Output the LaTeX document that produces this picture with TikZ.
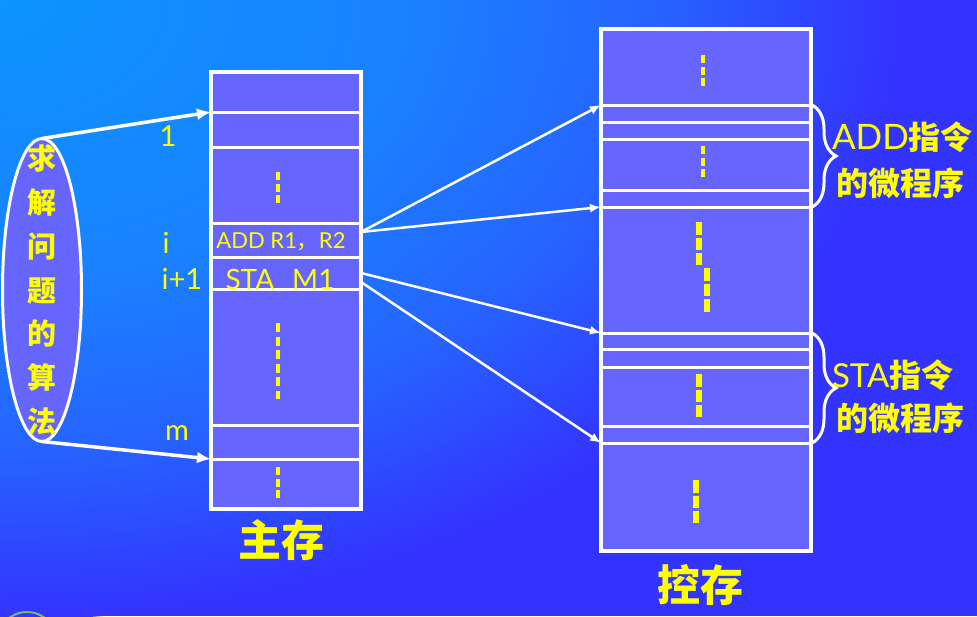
\documentclass[tikz,border=0pt]{standalone}
\usepackage{fontspec}
\setmainfont{Noto Sans CJK SC}
\newfontfamily\lat{Lato}
\usetikzlibrary{shapes.geometric,arrows.meta,decorations.pathreplacing}
\definecolor{bgdark}{RGB}{51,51,255}
\definecolor{bglight}{RGB}{12,148,255}
\definecolor{bgmidA}{RGB}{25,130,255}
\definecolor{bgmidB}{RGB}{38,100,255}
\definecolor{cellblue}{RGB}{102,102,255}
\definecolor{ylw}{RGB}{255,255,0}
\definecolor{arcgreen}{RGB}{110,190,110}
\pgfdeclareradialshading{bgshade}{\pgfpoint{0bp}{0bp}}{color(0bp)=(bglight); color(11bp)=(bgmidA); color(18bp)=(bgmidB); color(25bp)=(bgdark); color(50bp)=(bgdark)}
\tikzset{
  cell/.style={draw=white, fill=cellblue, line width=3pt, inner sep=0pt, outer sep=0pt, anchor=north west},
  lcell/.style={cell, minimum width=150pt},
  rcell/.style={cell, minimum width=210pt},
  txt/.style={text=ylw, inner sep=0pt, outer sep=0pt},
  addr/.style={txt, font=\lat\fontsize{29}{31}\selectfont},
  bigarr/.style={draw=white, line width=3.5pt, -{Latex[length=14pt,width=12pt]}},
  midarr/.style={draw=white, line width=2.5pt, -{Latex[length=11pt,width=9pt]}},
  thindots/.style={draw=ylw, line width=4.5pt, dash pattern=on 8pt off 3.5pt},
  longdots/.style={draw=ylw, line width=4.5pt, dash pattern=on 9pt off 4.5pt},
  thickdots/.style={draw=ylw, line width=6.5pt, dash pattern=on 12.5pt off 3pt},
  brc/.style={draw=white, line width=3pt, decorate, decoration={brace, amplitude=24pt}},
  lbl/.style={txt, anchor=west, font=\fontsize{32}{36}\selectfont\bfseries},
  big/.style={txt, font=\fontsize{43}{45}\selectfont\bfseries},
}
\begin{document}
\begin{tikzpicture}[x=1pt, y=-1pt]
\useasboundingbox (0,0) rectangle (977,616);
\begin{scope}
\clip (0,0) rectangle (977,616);
\fill[bgdark] (0,0) rectangle (977,616);
\shade[shading=bgshade] (0,0) ellipse [x radius=900, y radius=620];
\draw[arcgreen, line width=2pt] (27,642) circle [radius=30];
\end{scope}

% main memory
\node[lcell, minimum height=40pt] (m0) at (211,72) {};
\node[lcell, minimum height=35pt] (m1) at (211,112) {};
\node[lcell, minimum height=76pt] (m2) at (211,147) {};
\node[lcell, minimum height=34pt] (m3) at (211,223) {};
\node[lcell, minimum height=32pt] (m4) at (211,257) {};
\node[lcell, minimum height=136pt] (m5) at (211,289) {};
\node[lcell, minimum height=34pt] (m6) at (211,425) {};
\node[lcell, minimum height=50pt] (m7) at (211,459) {};
\draw[white, line width=4pt] (m0.north west) rectangle (m7.south east);

% control memory
\node[rcell, minimum height=76pt] (c0) at (601,29) {};
\node[rcell, minimum height=17pt] (c1) at (601,105) {};
\node[rcell, minimum height=17pt] (c2) at (601,122) {};
\node[rcell, minimum height=51pt] (c3) at (601,139) {};
\node[rcell, minimum height=17pt] (c4) at (601,190) {};
\node[rcell, minimum height=126pt] (c5) at (601,207) {};
\node[rcell, minimum height=16pt] (c6) at (601,333) {};
\node[rcell, minimum height=18pt] (c7) at (601,349) {};
\node[rcell, minimum height=59pt] (c8) at (601,367) {};
\node[rcell, minimum height=17pt] (c9) at (601,426) {};
\node[rcell, minimum height=108pt] (c10) at (601,443) {};
\draw[white, line width=4pt] (c0.north west) rectangle (c10.south east);

% dots
\draw[thindots] (278,172) -- (278,204);
\draw[longdots] (278,323) -- (278,399);
\draw[thindots] (278,467) -- (278,499);
\draw[thindots] (703,55) -- (703,87);
\draw[thindots] (703,146) -- (703,178);
\draw[thickdots] (699,222) -- (699,265);
\draw[thickdots] (707,268) -- (707,312);
\draw[thickdots] (699,374) -- (699,417);
\draw[thickdots] (696,480) -- (696,523);

% algorithm ellipse
\node[draw=white, line width=3pt, fill=cellblue, ellipse, minimum width=79pt, minimum height=303pt, inner sep=0pt, outer sep=0pt] (alg) at (42,290) {};
\node[txt, align=center, font=\fontsize{29}{43.8}\selectfont\bfseries] (algtxt) at (alg.center) {求\\解\\问\\题\\的\\算\\法};

% memory texts
\node[txt, font=\lat\fontsize{22}{24}\selectfont] (addtxt) at (281,242) {ADD R1{\normalfont ，}R2};
\node[txt, anchor=base, font=\lat\fontsize{28}{30}\selectfont] (statxt) at (280,289) {STA\hspace{18pt}M1};

% address labels
\node[addr] (l1) at (168,136) {1};
\node[addr] (li) at (166,243) {i};
\node[addr] (li1) at (182,279) {i+1};
\node[addr] (lm) at (177,433) {m};

% arrows
\draw[bigarr] (alg.north) -- (m1.north west);
\draw[bigarr] (alg.south) -- (m7.north west);
\draw[midarr] ([yshift=8pt]m3.east) -- (c1.north west);
\draw[midarr] ([yshift=8pt]m3.east) -- (c5.north west);
\draw[midarr] (m4.east) -- (c6.north west);
\draw[midarr] ([yshift=-9pt]m4.east) -- (c10.north west);

% braces
\draw[brc] ([xshift=1pt]c1.north east) -- ([xshift=1pt]c4.south east);
\draw[brc] ([xshift=1pt]c6.north east) -- ([xshift=1pt]c9.south east);

% right labels
\node[lbl] (addl1) at (832,137) {{\lat\mdseries\fontsize{35}{36}\selectfont ADD}指令};
\node[lbl] (addl2) at (836,183) {的微程序};
\node[lbl] (stal1) at (832,375) {{\lat\mdseries\fontsize{33}{36}\selectfont STA}指令};
\node[lbl] (stal2) at (836,418) {的微程序};

% titles
\node[big] (mainlbl) at (281,540) {主存};
\node[big] (ctllbl) at (700,585) {控存};
\end{tikzpicture}
\end{document}
